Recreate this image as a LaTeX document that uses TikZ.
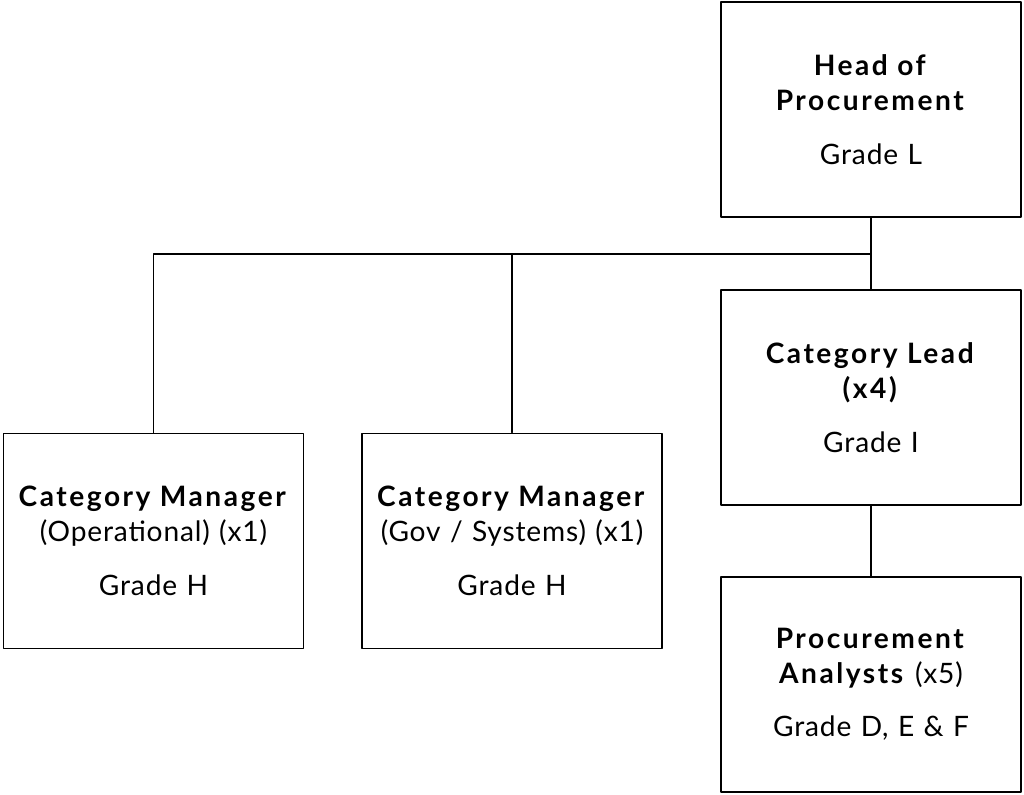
\documentclass[tikz,border=0pt]{standalone}
\usepackage{fontspec}
\setmainfont{Lato}[LetterSpace=3, BoldFeatures={LetterSpace=9}]
\usetikzlibrary{positioning}

\begin{document}
\begin{tikzpicture}[line join=round, line cap=round]
        \tikzset{post/.style={draw, line width=1.1pt, minimum width=6cm, minimum height=4.3cm,
                              text width=5.9cm, align=center, inner sep=0pt,
                              font=\fontsize{16}{19.8}\selectfont}}
        \tikzset{link/.style={line width=0.85pt}}
        \useasboundingbox (0, 0) rectangle (20.48, -15.9);
        % top of the tree
        \node[post] (head) at (17.42, -2.19)
            {\textbf{Head of}\\\textbf{Procurement}\\[10.8pt]Grade L};
        \node[post, below=1.42cm of head] (lead)
            {\textbf{Category Lead}\\\textbf{(x4)}\\[10.8pt]Grade I};
        \node[post, below=1.40cm of lead] (analyst)
            {\textbf{Procurement}\\\textbf{Analysts} (x5)\\[10.8pt]Grade D, E \& F};
        % managers on the left
        \node[post] (mgrop) at (3.07, -10.82)
            {\textbf{Category Manager}\\(Operational) (x1)\\[10.8pt]Grade H};
        \node[post] (mgrgov) at (10.24, -10.82)
            {\textbf{Category Manager}\\(Gov / Systems) (x1)\\[10.8pt]Grade H};
        \coordinate (bus) at (17.42, -5.08);
        \draw[link] (head.south) -- (lead.north);
        \draw[link] (lead.south) -- (analyst.north);
        \draw[link] (mgrop.north) |- (bus);
        \draw[link] (mgrgov.north) -- (mgrgov.north |- bus);
    \end{tikzpicture}
\end{document}
